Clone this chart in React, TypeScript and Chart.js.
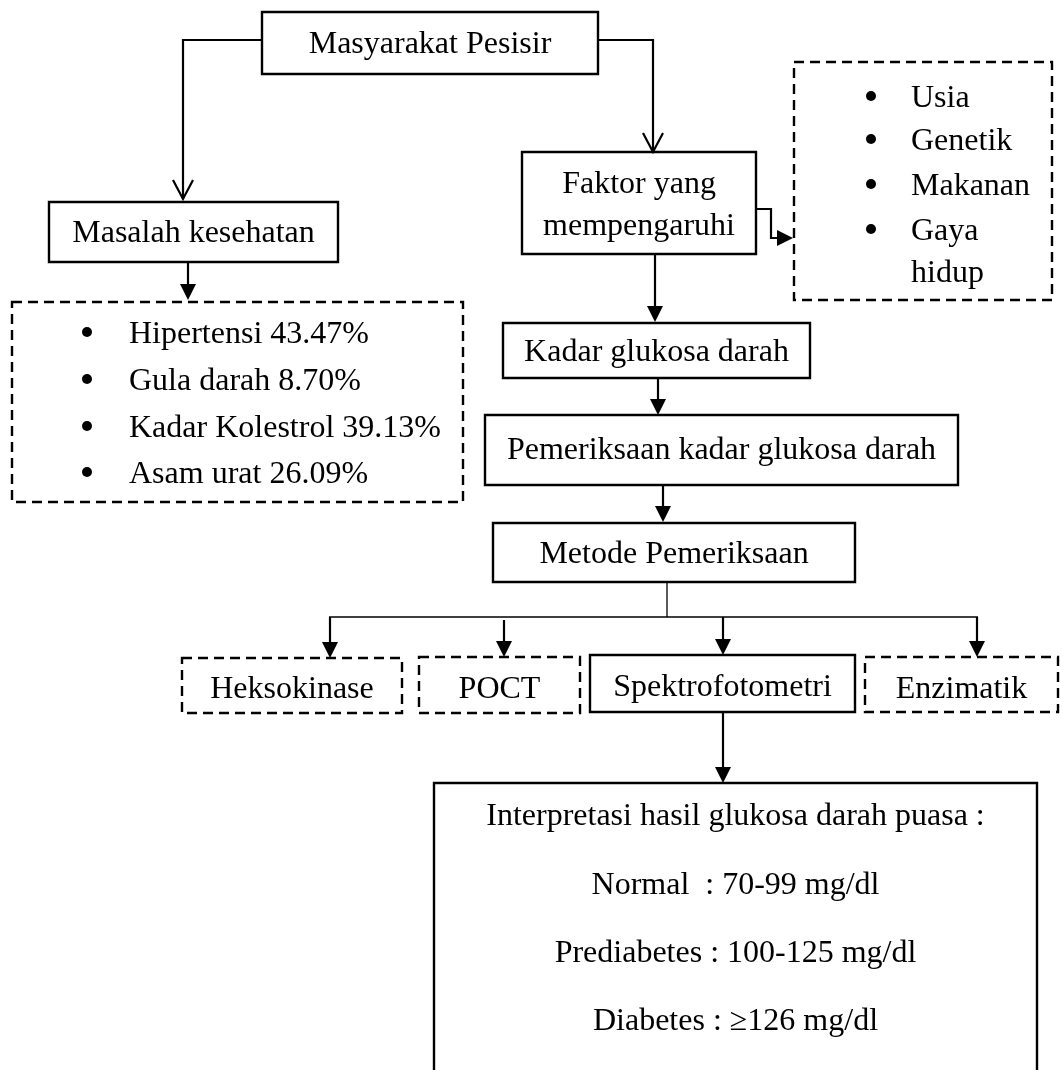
import React, { useEffect, useRef } from 'react';
import { Chart, registerables } from 'chart.js';

Chart.register(...registerables);

// ---- Diagram content (diagram units = hidden linear scale values) ----
const solidLabels: string[][] = [
  ['Masyarakat Pesisir'],
  ['Masalah kesehatan'],
  ['Faktor yang', 'mempengaruhi'],
  ['Kadar glukosa darah'],
  ['Pemeriksaan kadar glukosa darah'],
  ['Metode Pemeriksaan'],
  ['Spektrofotometri'],
];
const solidExtents: number[][] = [
  [262, 12, 598, 74],
  [49, 202, 338, 262],
  [522, 152, 756, 254],
  [503, 323, 810, 378],
  [485, 415, 958, 485],
  [493, 523, 855, 582],
  [590, 655, 855, 712],
];
const solidTextY: number[][] = [[43], [232], [183, 225], [351], [449], [553], [686]];

const methodLabels: string[] = ['Heksokinase', 'POCT', 'Enzimatik'];
const methodExtents: number[][] = [
  [182, 658, 402, 713],
  [419, 657, 580, 713],
  [865, 657, 1058, 712],
];
const methodTextY: number[] = [688, 688, 688];

const healthItems: string[] = [
  'Hipertensi 43.47%',
  'Gula darah 8.70%',
  'Kadar Kolestrol 39.13%',
  'Asam urat 26.09%',
];
const healthRowsY: number[] = [333, 380, 427, 473];
const healthExtent: number[] = [12, 302, 463, 502];
const healthBulletX = 87;
const healthTextX = 129;

const factorItems: string[] = ['Usia', 'Genetik', 'Makanan', 'Gaya', 'hidup'];
const factorBullets: boolean[] = [true, true, true, true, false];
const factorRowsY: number[] = [97, 140, 185, 230, 272];
const factorExtent: number[] = [794, 62, 1052, 300];
const factorBulletX = 871;
const factorTextX = 911;

const resultLines: string[] = [
  'Interpretasi hasil glukosa darah puasa :',
  'Normal  : 70-99 mg/dl',
  'Prediabetes : 100-125 mg/dl',
  'Diabetes : \u2265126 mg/dl',
];
const resultRowsY: number[] = [815, 884, 952, 1020];
const resultExtent: number[] = [434, 783, 1037, 1100];

// connectors: polyline points, head type
const connectorPaths: number[][][] = [
  [[262, 40], [183, 40], [183, 199]],
  [[598, 40], [653, 40], [653, 152]],
  [[188, 262], [188, 300]],
  [[655, 254], [655, 322]],
  [[756, 209], [771, 209], [771, 238], [793, 238]],
  [[658, 378], [658, 415]],
  [[663, 485], [663, 522]],
  [[330, 617], [330, 658]],
  [[504, 620], [504, 657]],
  [[723, 617], [723, 655]],
  [[977, 617], [977, 657]],
  [[723, 712], [723, 783]],
];
const connectorHeads: string[] = [
  'open', 'open', 'filled', 'filled', 'filled', 'filled', 'filled',
  'filled', 'filled', 'filled', 'filled', 'filled',
];
const branchPaths: number[][][] = [
  [[667, 582], [667, 617]],
  [[329, 617], [978, 617]],
];

const FONT = '32px "Liberation Serif", "Times New Roman", serif';

const diagramPlugin = {
  id: 'flowDiagram',
  afterDatasetsDraw(chart: any) {
    const ctx: CanvasRenderingContext2D = chart.ctx;
    const xs = chart.scales.x;
    const ys = chart.scales.y;
    const px = (v: number) => xs.getPixelForValue(v);
    const py = (v: number) => ys.getPixelForValue(v);

    ctx.save();
    ctx.fillStyle = '#000';
    ctx.strokeStyle = '#000';
    ctx.font = FONT;
    ctx.textBaseline = 'alphabetic';

    const rect = (e: number[], dashed: boolean) => {
      ctx.save();
      ctx.lineWidth = 2.4;
      ctx.setLineDash(dashed ? [10, 6] : []);
      ctx.beginPath();
      ctx.rect(px(e[0]), py(e[1]), px(e[2]) - px(e[0]), py(e[3]) - py(e[1]));
      ctx.stroke();
      ctx.restore();
    };
    const text = (s: string, x: number, yc: number, align: CanvasTextAlign) => {
      ctx.textAlign = align;
      ctx.fillText(s, px(x), py(yc) + 10);
    };
    const bullet = (x: number, yc: number) => {
      ctx.beginPath();
      ctx.arc(px(x), py(yc), 5, 0, Math.PI * 2);
      ctx.fill();
    };

    // solid boxes
    solidExtents.forEach((e, i) => {
      rect(e, false);
      const cx = (e[0] + e[2]) / 2;
      solidLabels[i].forEach((s, j) => text(s, cx, solidTextY[i][j], 'center'));
    });
    // dashed method boxes
    methodExtents.forEach((e, i) => {
      rect(e, true);
      text(methodLabels[i], (e[0] + e[2]) / 2, methodTextY[i], 'center');
    });
    // health list
    rect(healthExtent, true);
    healthItems.forEach((s, i) => {
      bullet(healthBulletX, healthRowsY[i] - 1);
      text(s, healthTextX, healthRowsY[i], 'left');
    });
    // factor list
    rect(factorExtent, true);
    factorItems.forEach((s, i) => {
      if (factorBullets[i]) bullet(factorBulletX, factorRowsY[i] - 1);
      text(s, factorTextX, factorRowsY[i], 'left');
    });
    // result box
    rect(resultExtent, false);
    const rcx = (resultExtent[0] + resultExtent[2]) / 2;
    resultLines.forEach((s, i) => text(s, rcx, resultRowsY[i], 'center'));

    // branch (thin) lines
    ctx.lineWidth = 1.3;
    branchPaths.forEach((p) => {
      ctx.beginPath();
      p.forEach((pt, k) => (k ? ctx.lineTo(px(pt[0]), py(pt[1])) : ctx.moveTo(px(pt[0]), py(pt[1]))));
      ctx.stroke();
    });

    // connectors with arrowheads
    connectorPaths.forEach((p, i) => {
      const head = connectorHeads[i];
      const n = p.length;
      const tx = px(p[n - 1][0]);
      const ty = py(p[n - 1][1]);
      const sx = px(p[n - 2][0]);
      const sy = py(p[n - 2][1]);
      const len = Math.hypot(tx - sx, ty - sy) || 1;
      const ux = (tx - sx) / len;
      const uy = (ty - sy) / len;
      const hl = head === 'open' ? 19 : 16;
      const hw = head === 'open' ? 10 : 8;
      ctx.lineWidth = 2.2;
      ctx.beginPath();
      p.forEach((pt, k) => {
        let x = px(pt[0]);
        let y = py(pt[1]);
        if (k === n - 1 && head === 'filled') {
          x = tx - ux * (hl - 2);
          y = ty - uy * (hl - 2);
        }
        k ? ctx.lineTo(x, y) : ctx.moveTo(x, y);
      });
      ctx.stroke();
      const bx = tx - ux * hl;
      const by = ty - uy * hl;
      const nx = -uy;
      const ny = ux;
      ctx.beginPath();
      if (head === 'filled') {
        ctx.moveTo(tx, ty);
        ctx.lineTo(bx + nx * hw, by + ny * hw);
        ctx.lineTo(bx - nx * hw, by - ny * hw);
        ctx.closePath();
        ctx.fill();
      } else {
        ctx.moveTo(bx + nx * hw, by + ny * hw);
        ctx.lineTo(tx, ty);
        ctx.lineTo(bx - nx * hw, by - ny * hw);
        ctx.stroke();
      }
    });
    ctx.restore();
  },
};

export default function App() {
  const canvasRef = useRef<HTMLCanvasElement | null>(null);

  useEffect(() => {
    if (!canvasRef.current) return;
    const centers = solidExtents.map((e) => ({ x: (e[0] + e[2]) / 2, y: (e[1] + e[3]) / 2 }));
    const chart = new Chart(canvasRef.current, {
      type: 'scatter',
      data: {
        datasets: [
          {
            data: centers,
            pointRadius: 0,
            pointHoverRadius: 0,
          },
        ],
      },
      options: {
        responsive: false,
        animation: false,
        events: [],
        layout: { padding: 0 },
        plugins: {
          legend: { display: false },
          tooltip: { enabled: false },
          title: { display: false },
        },
        scales: {
          x: { type: 'linear', min: 0, max: 1063, display: false },
          y: { type: 'linear', min: 0, max: 1070, reverse: true, display: false },
        },
      },
      plugins: [diagramPlugin],
    });
    return () => chart.destroy();
  }, []);

  return (
    <div style={{ position: 'absolute', left: 0, top: 0, width: 1063, height: 1070, background: '#fff' }}>
      <canvas ref={canvasRef} width={1063} height={1070} style={{ display: 'block' }} />
    </div>
  );
}
